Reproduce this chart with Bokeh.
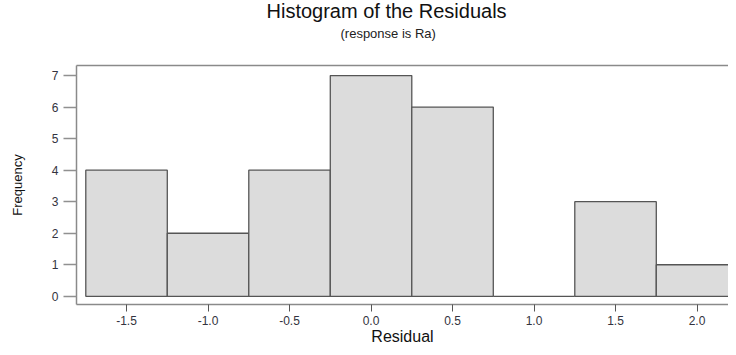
from bokeh.plotting import figure
from bokeh.models import Title, LinearAxis, FixedTicker, Range1d, ColumnDataSource
from bokeh.embed import file_html
from bokeh.resources import INLINE

# Data
bin_edges = [-1.75, -1.25, -0.75, -0.25, 0.25, 0.75, 1.25, 1.75, 2.25]
counts = [4, 2, 4, 7, 6, 0, 3, 1]
x_ticks = [-1.5, -1.0, -0.5, 0.0, 0.5, 1.0, 1.5, 2.0]
x_tick_labels = ["-1.5", "-1.0", "-0.5", "0.0", "0.5", "1.0", "1.5", "2.0"]
y_ticks = [0, 1, 2, 3, 4, 5, 6, 7]

FONT = "Liberation Sans"

src = ColumnDataSource(dict(left=bin_edges[:-1], right=bin_edges[1:],
                            top=counts, bottom=[0] * len(counts)))

p = figure(width=728, height=347, output_backend="svg", toolbar_location=None,
           x_range=Range1d(-1.807, 2.193), y_range=Range1d(-0.26, 7.32),
           x_axis_location=None, y_axis_location=None,
           min_border_left=76, min_border_right=0, min_border_top=0, min_border_bottom=0)
p.outline_line_color = None
p.grid.visible = False
p.background_fill_color = "white"
p.border_fill_color = "white"

p.quad(left="left", right="right", top="top", bottom="bottom", source=src,
       fill_color="#dcdcdc", line_color="#555555", line_width=1.3)

frame_col = "#8a8a8a"

xax = LinearAxis(ticker=FixedTicker(ticks=x_ticks), axis_label="Residual")
xax.major_label_overrides = {t: s for t, s in zip(x_ticks, x_tick_labels)}
xax.axis_line_color = frame_col
xax.axis_line_width = 1.5
xax.major_tick_out = 7
xax.major_tick_in = 0
xax.major_tick_line_color = "#555555"
xax.minor_tick_line_color = None
xax.major_label_standoff = 4
xax.major_label_text_font = FONT
xax.major_label_text_font_size = "12px"
xax.major_label_text_color = "#333340"
xax.axis_label_text_font = FONT
xax.axis_label_text_font_size = "16px"
xax.axis_label_text_font_style = "normal"
xax.axis_label_text_color = "#111111"
xax.axis_label_standoff = 0
p.add_layout(xax, "below")

yax = LinearAxis(ticker=FixedTicker(ticks=y_ticks), axis_label="Frequency")
yax.axis_line_color = frame_col
yax.axis_line_width = 1.5
yax.major_tick_out = 13
yax.major_tick_in = 0
yax.major_tick_line_color = "#909090"
yax.major_tick_line_width = 1.5
yax.minor_tick_line_color = None
yax.major_label_standoff = 5
yax.major_label_text_font = FONT
yax.major_label_text_font_size = "12px"
yax.major_label_text_color = "#333340"
yax.major_label_orientation = "horizontal"
yax.axis_label_text_font = FONT
yax.axis_label_text_font_size = "13px"
yax.axis_label_text_font_style = "normal"
yax.axis_label_text_color = "#111111"
yax.axis_label_standoff = 24
p.add_layout(yax, "left")

top_ax = LinearAxis(ticker=FixedTicker(ticks=[]))
top_ax.axis_line_color = frame_col
top_ax.axis_line_width = 1.5
top_ax.major_tick_line_color = None
top_ax.minor_tick_line_color = None
top_ax.major_label_text_font_size = "0px"
p.add_layout(top_ax, "above")

# empty vertical gap between the subtitle and the plot frame
gap = Title(text=" ", text_font_size="2px", standoff=16, text_color="white")
p.add_layout(gap, "above")

sub = Title(text="(response is Ra)", align="left", offset=264,
            text_font=FONT, text_font_size="13px", text_font_style="normal",
            text_color="#222222", standoff=10)
p.add_layout(sub, "above")
main = Title(text="Histogram of the Residuals", align="left", offset=190,
             text_font=FONT, text_font_size="20px", text_font_style="normal",
             text_color="#111111", standoff=-6)
p.add_layout(main, "above")

open("out.html", "w").write(file_html(p, INLINE))
